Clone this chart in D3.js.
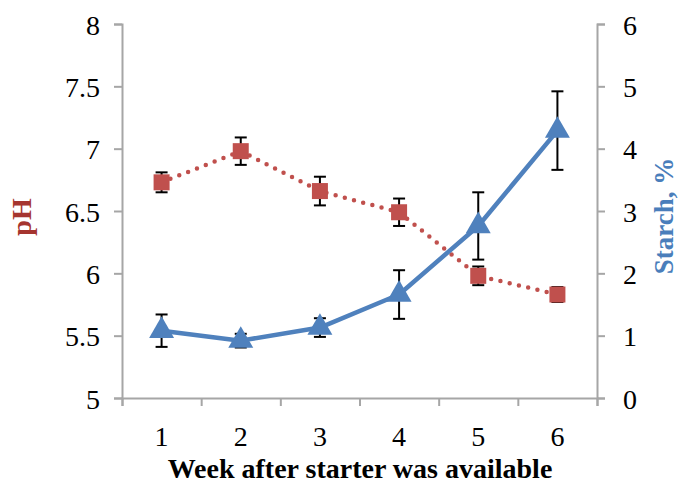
<!DOCTYPE html>
<html>
<head>
<meta charset="utf-8">
<script src="https://cdn.jsdelivr.net/npm/d3@7"></script>
<style>
  body { margin: 0; background: #fff; }
  svg { display: block; font-family: "Liberation Serif", "Times New Roman", serif; }
</style>
</head>
<body>
<div id="chart"></div>
<script>
'use strict';

// data
var weeks = ["1", "2", "3", "4", "5", "6"];
var phValues = [6.73, 6.98, 6.66, 6.49, 5.98, 5.83];
var phErr = [0.08, 0.11, 0.115, 0.11, 0.075, 0.06];
var starchValues = [1.08, 0.92, 1.13, 1.66, 2.76, 4.29];
var starchErr = [0.26, 0.11, 0.15, 0.39, 0.54, 0.63];
var phTicks = [5, 5.5, 6, 6.5, 7, 7.5, 8];
var starchTicks = [0, 1, 2, 3, 4, 5, 6];

var width = 678, height = 486;
var plotLeft = 122, plotRight = 597, plotTop = 24, plotBottom = 398;

var red = "#c0504d", blue = "#4f81bd", axisGray = "#a6a6a6";

var svg = d3.select("#chart").append("svg")
    .attr("width", width)
    .attr("height", height);

var xScale = d3.scaleBand().domain(weeks).range([plotLeft, plotRight]).padding(0);
var xEdge = d3.scaleLinear().domain([0, weeks.length]).range([plotLeft, plotRight]);
var yPh = d3.scaleLinear().domain([5, 8]).range([plotBottom, plotTop]);
var yStarch = d3.scaleLinear().domain([0, 6]).range([plotBottom, plotTop]);

function cx(i) { return xScale(weeks[i]) + xScale.bandwidth() / 2; }

// left axis
var leftAxis = svg.append("g")
    .attr("transform", "translate(" + plotLeft + ",0)")
    .call(d3.axisLeft(yPh).tickValues(phTicks).tickSize(8).tickPadding(14).tickFormat(d3.format("")));

// right axis
var rightAxis = svg.append("g")
    .attr("transform", "translate(" + plotRight + ",0)")
    .call(d3.axisRight(yStarch).tickValues(starchTicks).tickSize(8).tickPadding(18).tickFormat(d3.format("")));

// bottom axis: ticks between categories, labels at centres
var bottomTicks = svg.append("g")
    .attr("transform", "translate(0," + plotBottom + ")")
    .call(d3.axisBottom(xEdge).tickValues(d3.range(0, weeks.length + 1)).tickSize(8).tickFormat(""));

var bottomLabels = svg.append("g")
    .attr("transform", "translate(0," + plotBottom + ")")
    .call(d3.axisBottom(xScale).tickSize(0).tickPadding(28));
bottomLabels.select(".domain").remove();

[leftAxis, rightAxis, bottomTicks].forEach(function(g) {
    g.select(".domain").attr("stroke", axisGray).attr("stroke-width", 2);
    g.selectAll(".tick line").attr("stroke", axisGray).attr("stroke-width", 2);
});
svg.selectAll(".tick text")
    .attr("font-family", "Liberation Serif, Times New Roman, serif")
    .attr("font-size", 28)
    .attr("fill", "#000");
leftAxis.selectAll(".tick text").attr("dy", "0.36em");
rightAxis.selectAll(".tick text").attr("dy", "0.36em");

// pH series (dotted line, squares)
var phLine = d3.line().x(function(d, i) { return cx(i); }).y(function(d) { return yPh(d); });

svg.append("path")
    .datum(phValues)
    .attr("d", phLine)
    .attr("fill", "none")
    .attr("stroke", red)
    .attr("stroke-width", 4.5)
    .attr("stroke-linecap", "round")
    .attr("stroke-dasharray", "0 9.5");

function errorBars(values, errs, scale) {
    var g = svg.append("g").attr("stroke", "#000").attr("stroke-width", 2);
    values.forEach(function(v, i) {
        var x = cx(i), y1 = scale(v - errs[i]), y2 = scale(v + errs[i]);
        g.append("line").attr("x1", x).attr("x2", x).attr("y1", y1).attr("y2", y2);
        g.append("line").attr("x1", x - 6).attr("x2", x + 6).attr("y1", y1).attr("y2", y1);
        g.append("line").attr("x1", x - 6).attr("x2", x + 6).attr("y1", y2).attr("y2", y2);
    });
}

errorBars(phValues, phErr, yPh);

svg.append("g").selectAll("rect")
    .data(phValues)
    .join("rect")
    .attr("x", function(d, i) { return cx(i) - 8; })
    .attr("y", function(d) { return yPh(d) - 8; })
    .attr("width", 16)
    .attr("height", 16)
    .attr("fill", red);

// starch series (solid line, triangles)
var starchLine = d3.line().x(function(d, i) { return cx(i); }).y(function(d) { return yStarch(d); });

errorBars(starchValues, starchErr, yStarch);

svg.append("path")
    .datum(starchValues)
    .attr("d", starchLine)
    .attr("fill", "none")
    .attr("stroke", blue)
    .attr("stroke-width", 4.5)
    .attr("stroke-linejoin", "round");

var tri = d3.symbol().type(d3.symbolTriangle).size(270);
svg.append("g").selectAll("path")
    .data(starchValues)
    .join("path")
    .attr("d", tri)
    .attr("transform", function(d, i) { return "translate(" + cx(i) + "," + yStarch(d) + ")"; })
    .attr("fill", blue);

// axis titles
svg.append("text")
    .attr("transform", "translate(31,217) rotate(-90)")
    .attr("text-anchor", "middle")
    .attr("font-size", 28)
    .attr("font-weight", "bold")
    .attr("fill", "#a5352f")
    .text("pH");

svg.append("text")
    .attr("transform", "translate(673,216) rotate(-90)")
    .attr("text-anchor", "middle")
    .attr("font-size", 27)
    .attr("font-weight", "bold")
    .attr("fill", "#4a7ebb")
    .text("Starch, %");

svg.append("text")
    .attr("x", 360)
    .attr("y", 478)
    .attr("text-anchor", "middle")
    .attr("font-size", 28)
    .attr("font-weight", "bold")
    .attr("fill", "#000")
    .text("Week after starter was available");
</script>
</body>
</html>
